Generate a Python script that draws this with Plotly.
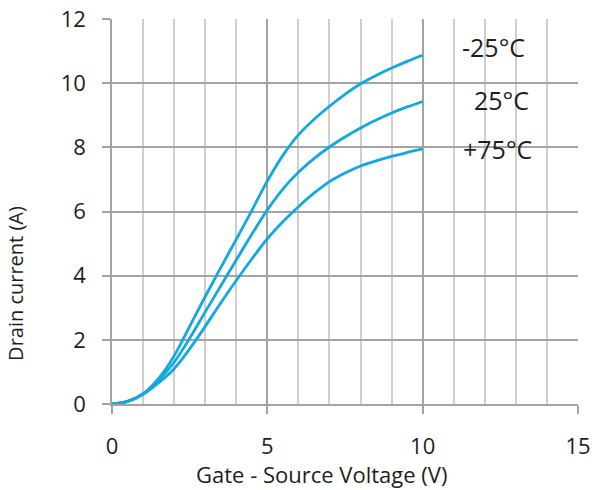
import plotly.graph_objects as go

vgs = [0, 0.5, 1, 1.5, 2, 2.5, 3, 3.5, 4, 4.5, 5, 5.5, 6, 6.5, 7, 7.5, 8, 8.5, 9, 9.5, 10]
id_m25 = [0, 0.08, 0.32, 0.8, 1.5, 2.42, 3.35, 4.25, 5.13, 6.03, 6.95, 7.75, 8.39, 8.87, 9.28, 9.65, 9.98, 10.24, 10.47, 10.68, 10.87]
id_25 = [0, 0.08, 0.31, 0.74, 1.3, 2.05, 2.87, 3.68, 4.49, 5.29, 6.05, 6.7, 7.22, 7.65, 8.01, 8.32, 8.6, 8.85, 9.07, 9.26, 9.43]
id_75 = [0, 0.08, 0.3, 0.66, 1.1, 1.72, 2.42, 3.15, 3.85, 4.52, 5.15, 5.68, 6.15, 6.57, 6.93, 7.2, 7.42, 7.58, 7.72, 7.84, 7.95]

series = [("-25°C", id_m25), ("25°C", id_25), ("+75°C", id_75)]
label_pos = {"-25°C": (12.28, 11.14), "25°C": (12.55, 9.49), "+75°C": (12.41, 7.96)}

x_title = "Gate - Source Voltage (V)"
y_title = "Drain current (A)"

FONT = "Open Sans, sans-serif"
TXT = "#1e1e1e"
LINE = "#14a8e1"

fig = go.Figure()
for name, ys in series:
    fig.add_trace(go.Scatter(x=vgs, y=ys, mode="lines", name=name,
                             line=dict(color=LINE, width=2.8, shape="spline", smoothing=1.0),
                             showlegend=False, hoverinfo="skip"))
    lx, ly = label_pos[name]
    fig.add_annotation(x=lx, y=ly, xref="x", yref="y", text=name, showarrow=False,
                       xanchor="center", yanchor="middle",
                       font=dict(family=FONT, size=25, color=TXT))

fig.add_annotation(x=0.4485, y=-0.182, xref="paper", yref="paper", text=x_title,
                   showarrow=False, xanchor="center", yanchor="middle",
                   font=dict(family=FONT, size=22, color=TXT))
fig.add_annotation(x=-0.206, y=0.312, xref="paper", yref="paper", text=y_title,
                   showarrow=False, xanchor="center", yanchor="middle", textangle=-90,
                   font=dict(family=FONT, size=20, color=TXT))

fig.update_layout(
    width=592, height=490,
    margin=dict(l=112, r=14, t=19, b=86),
    paper_bgcolor="white", plot_bgcolor="white",
    font=dict(family=FONT, size=22, color=TXT),
    xaxis=dict(range=[-0.0005, 15.0005], dtick=5, tick0=0, automargin=False,
               showgrid=True, gridcolor="#a3a3a3", gridwidth=1.6,
               minor=dict(dtick=1, showgrid=True, gridcolor="#cfcfcf", gridwidth=1.6),
               ticks="outside", ticklen=8, tickwidth=1.6, tickcolor="#a3a3a3",
               showline=True, linecolor="#a3a3a3", linewidth=1.6, mirror=False,
               zeroline=False, ticklabelstandoff=14, ticklabeloverflow="allow",
               tickfont=dict(family=FONT, size=22, color=TXT)),
    yaxis=dict(range=[-0.0005, 12.0005], dtick=2, tick0=0, automargin=False,
               showgrid=True, gridcolor="#a3a3a3", gridwidth=1.6,
               ticks="outside", ticklen=8, tickwidth=1.6, tickcolor="#a3a3a3",
               showline=True, linecolor="#a3a3a3", linewidth=1.6,
               zeroline=False, ticklabelstandoff=12, ticklabeloverflow="allow",
               tickfont=dict(family=FONT, size=22, color=TXT)),
)

# remove the browser's default 8px body margin so the figure sits at (0, 0)
fig.write_html("out.html", config={"displayModeBar": False},
               post_script="document.body.style.margin='0';document.body.style.overflow='hidden';")
